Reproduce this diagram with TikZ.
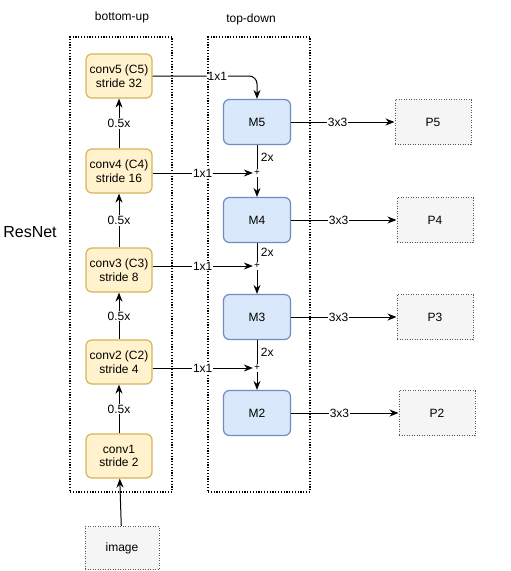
\documentclass[tikz,border=0pt]{standalone}
\usepackage{fontspec}
\setmainfont{Liberation Sans}
\usetikzlibrary{arrows.meta}
\definecolor{convfill}{HTML}{FFF2CC}
\definecolor{convline}{HTML}{D6B656}
\definecolor{mfill}{HTML}{DAE8FC}
\definecolor{mline}{HTML}{6C8EBF}
\definecolor{pfill}{HTML}{F5F5F5}
\definecolor{pline}{HTML}{555555}

\begin{document}
\begin{tikzpicture}[
    x=1pt, y=-1pt,
    every node/.style={font=\fontsize{12}{13.5}\selectfont},
    conv/.style={draw=convline, fill=convfill, line width=1.2pt, rounded corners=6pt, minimum width=66pt, minimum height=44pt, align=center},
    merge/.style={draw=mline, fill=mfill, line width=1.2pt, rounded corners=6pt, minimum width=67pt, minimum height=45pt},
    outbox/.style={draw=pline, fill=pfill, line width=1pt, dash pattern=on 1pt off 1.5pt, minimum width=76pt, minimum height=45pt},
    group/.style={draw, line width=1.2pt, dash pattern=on 1.2pt off 1.6pt, minimum width=102pt, minimum height=455pt},
    plus/.style={font=\fontsize{10}{10}\selectfont, inner sep=1pt},
    arr/.style={-{Stealth[length=9pt, width=7pt]}, line width=1pt},
    lbl/.style={fill=white, inner sep=1pt}
    ]
    \useasboundingbox[fill=white] (0,0) rectangle (511,571);

    \node[group] (bu) at (121,264.5) {};
    \node[group] (td) at (259,264.5) {};
    \node (butxt) at (122,17) {bottom-up};
    \node (tdtxt) at (251,19) {top-down};
    \node (resnet) at (30,232) {\fontsize{16}{18}\selectfont ResNet};

    \node[conv] (c5) at (119,76) {conv5 (C5)\\stride 32};
    \node[conv] (c4) at (119,171) {conv4 (C4)\\stride 16};
    \node[conv] (c3) at (119,270) {conv3 (C3)\\stride 8};
    \node[conv] (c2) at (119,362) {conv2 (C2)\\stride 4};
    \node[conv] (c1) at (119,456) {conv1\\stride 2};
    \node[outbox, minimum width=74pt, minimum height=43pt] (img) at (122,548) {image};

    \node[merge] (m5) at (257,122) {M5};
    \node[merge] (m4) at (257,220) {M4};
    \node[merge] (m3) at (257,317) {M3};
    \node[merge] (m2) at (257,413) {M2};

    \node[plus] (s4) at (257,173) {+};
    \node[plus] (s3) at (257,266) {+};
    \node[plus] (s2) at (257,368) {+};

    \node[outbox] (p5) at (433,122) {P5};
    \node[outbox] (p4) at (435,220) {P4};
    \node[outbox] (p3) at (435,317) {P3};
    \node[outbox] (p2) at (437,413) {P2};

    \draw[arr] (img) -- (c1);
    \foreach \a/\b in {c1/c2, c2/c3, c3/c4, c4/c5}
      \draw[arr] (\a) -- node[lbl]{0.5x} (\b);

    \draw[arr, rounded corners=8pt] (c5.east) -| node[lbl, pos=0.31]{1x1} (m5.north);
    \foreach \c/\s in {c4/s4, c3/s3, c2/s2}
      \draw[arr] (\c.east |- \s) -- node[lbl]{1x1} (\s.west);

    \foreach \m/\s/\n in {m5/s4/m4, m4/s3/m3, m3/s2/m2} {
      \draw[line width=1pt] (\m) -- node[right]{2x} (\s);
      \draw[arr] (\s) -- (\n);
    }
    \foreach \m/\p in {m5/p5, m4/p4, m3/p3, m2/p2}
      \draw[arr] (\m) -- node[lbl, pos=0.45]{3x3} (\p);
  \end{tikzpicture}
\end{document}
